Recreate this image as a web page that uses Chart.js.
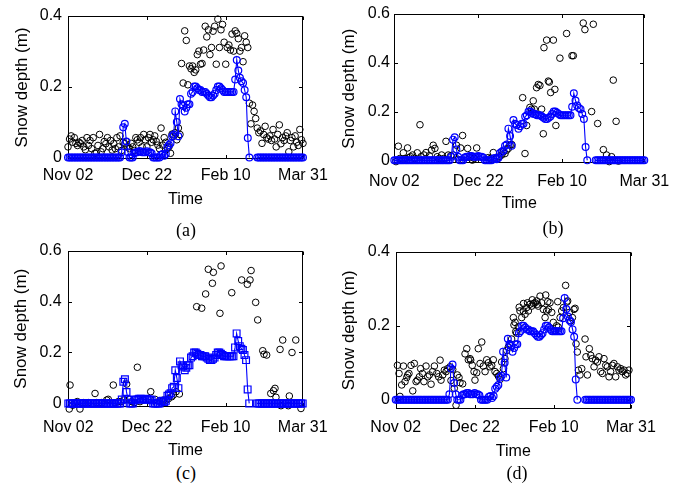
<!DOCTYPE html>
<html><head><meta charset="utf-8">
<script src="https://cdn.jsdelivr.net/npm/chart.js@4.4.1/dist/chart.umd.min.js"></script>
<style>
html,body{margin:0;padding:0;background:#fff;}
#wrap{position:relative;width:684px;height:485px;overflow:hidden;background:#fff;}
canvas{position:absolute;}
.cap{position:absolute;font-family:"Liberation Serif","Times New Roman",serif;font-size:18px;color:#000;transform:translate(-50%,-50%);white-space:nowrap;line-height:1;}
</style></head><body>
<div id="wrap">
<canvas id="pa"></canvas>
<canvas id="pb"></canvas>
<canvas id="pc"></canvas>
<canvas id="pd"></canvas>
<div class="cap" style="left:186px;top:230px">(a)</div>
<div class="cap" style="left:553px;top:228px">(b)</div>
<div class="cap" style="left:186px;top:473px">(c)</div>
<div class="cap" style="left:517px;top:473px">(d)</div>
</div>
<script>
// ---- tick labels ----
const xTickDays = [0, 50, 100, 149];
const xTickLabels = ['Nov 02', 'Dec 22', 'Feb 10', 'Mar 31'];
const yTicksA = [0, 0.2, 0.4];
const yTicksB = [0, 0.2, 0.4, 0.6];
const yTicksC = [0, 0.2, 0.4, 0.6];
const yTicksD = [0, 0.2, 0.4];

// ---- modelled snow depth (blue), one value per day from Nov 02 ----
const modelDepth = [
0,0,0,0,0,0,0,0,0,0,
0,0,0,0,0,0,0,0,0,0,
0,0,0,0,0,0,0,0,0,0,
0,0,0,0,0.015,0.085,0.095,0.045,0.015,0,
0,0,0.012,0.015,0.015,0.018,0.018,0.015,0.015,0.015,
0.018,0.015,0.015,0.012,0,0,0,0,0,0.008,
0.01,0.005,0.01,0.03,0.035,0.04,0.06,0.065,0.13,0.10,
0.06,0.165,0.15,0.145,0.13,0.14,0.15,0.15,0.18,0.185,
0.20,0.20,0.195,0.19,0.19,0.185,0.185,0.185,0.18,0.175,
0.17,0.17,0.175,0.18,0.19,0.20,0.20,0.195,0.19,0.185,
0.185,0.185,0.185,0.185,0.185,0.185,0.22,0.275,0.245,0.225,
0.215,0.21,0.19,0.17,0.055,0,null,null,null,null,
0,0,0,0,0,0,0,0,0,0,
0,0,0,0,0,0,0,0,0,0,
0,0,0,0,0,0,0,0,0,0
];

// ---- observed snow depth (black circles) ----
// (a): one value per day from Nov 02
const obsDepthA = [
0.03,0.052,0.061,0.043,0.056,0.04,0.034,0.043,0.039,0.048,
0.03,0.022,0.056,0.034,0.048,0.025,0.056,0.012,0.013,0.034,
0.065,0.016,0.025,0.045,0.039,0.056,0.03,0.048,0.021,0.039,
0.025,0.056,0.03,0.061,0.02,0.043,0.039,0.045,0.03,0.025,
0.04,0.03,0.02,0.056,0.05,0.043,0.056,0.03,0.065,0.05,
0.03,0.056,0.065,0.043,0.05,0.061,0.045,0.035,0.025,0.083,
0.035,0.056,0.043,0.025,0.03,0.012,0.066,0.06,0.07,0.05,
0.083,0.065,0.265,0.21,0.357,0.33,0.205,0.258,0.25,0.258,
0.24,0.247,0.29,0.30,0.263,0.265,0.303,0.37,0.34,0.36,
0.29,0.31,0.356,0.37,0.263,0.39,0.31,0.36,0.375,0.325,
0.263,0.31,0.317,0.303,0.348,0.30,0.357,0.35,0.335,0.30,
0.31,0.27,0.343,0.325,0.31,0.153,0.095,0.148,0.13,0.11,
0.083,0.07,0.075,0.04,0.065,0.088,0.056,0.052,0.061,0.048,
0.079,0.052,0.03,0.065,0.092,0.039,0.056,0.048,0.061,0.07,
0.016,0.048,0.056,0.03,0.061,0.043,0.034,0.079,0.05,0.04
];

// (b)
const obsDaysB = [1.0,2.4,3.4,5.4,6.4,7.9,8.7,9.7,10.9,12.1,13.7,15.3,15.9,17.7,18.9,20.9,22.2,23.2,24.2,25.6,26.8,28.2,29.6,30.8,32.2,33.6,35.2,37.1,38.1,39.5,40.7,42.1,43.7,45.1,46.5,47.7,49.1,56.0,57.4,59.0,61.0,62.6,64.0,65.0,66.0,67.0,68.0,69.0,70.0,76.5,77.9,78.9,80.8,81.8,82.8,83.4,84.8,85.8,86.8,87.8,88.8,89.2,90.8,91.8,92.4,93.2,94.8,95.7,96.3,98.7,102.7,105.9,106.7,112.6,113.6,117.6,118.6,121.2,124.6,126.5,128.1,129.5,130.5,132.2,133.6];
const obsDepthB = [-0.005,0.058,0.008,0.031,0.008,0.051,0.011,0.015,0.022,0.008,0.031,0.146,0.015,0.022,0.032,0.019,0.042,0.062,0.049,0.015,0.008,0.022,0.008,0.078,0.022,0.019,0.022,0.062,0.004,0.051,0.102,0.011,0.049,0.011,0.001,0.008,0.051,0.011,0.008,0.032,0.008,0.015,0.022,0.035,0.028,0.042,0.049,0.062,0.065,0.257,0.028,0.143,0.217,0.21,0.244,0.21,0.298,0.311,0.307,0.21,0.109,0.462,0.493,0.325,0.321,0.278,0.493,0.291,0.143,0.419,0.52,0.429,0.429,0.563,0.536,0.2,0.558,0.151,0.044,0.022,-0.005,0.015,0.329,0.16,-0.003];

// (c)
const obsDaysC = [1.1,0.6,2.8,4.2,5.7,7.4,9.5,11.2,12.7,17.0,18.0,21.2,24.4,25.4,28.6,29.7,31.8,33.3,35.4,37.1,38.8,40.3,42.0,43.9,45.6,47.7,52.4,55.1,56.2,57.9,60.4,62.1,63.6,65.7,66.8,68.5,70.6,81.6,84.8,87.3,89.0,91.6,92.2,96.4,97.1,103.9,110.2,113.8,115.5,116.2,119.1,120.4,123.6,124.4,126.1,128.7,130.4,131.4,132.0,134.6,136.3,135.2,139.9,140.5,142.2,144.6,147.9];
const obsDepthC = [0.072,-0.022,-0.007,0.003,0.007,-0.022,0.003,0.0,0.003,0.039,0.003,0.003,0.013,0.016,0.072,0.003,0.007,0.007,0.013,0.076,0.016,0.007,0.003,0.142,0.007,0.013,0.046,0.016,0.0,0.01,0.013,0.013,0.018,0.026,0.033,0.046,0.037,0.38,0.374,0.43,0.527,0.472,0.515,0.354,0.54,0.435,0.485,0.468,0.485,0.522,0.397,0.328,0.207,0.193,0.19,0.039,0.05,0.059,0.024,0.212,0.249,-0.009,-0.009,0.029,0.2,0.249,-0.02];

// (d)
const obsDaysD = [1.1,2.1,2.7,3.8,4.9,5.9,7.0,7.6,8.4,9.7,10.8,11.8,12.9,13.7,15.0,15.8,16.9,17.9,19.2,20.3,21.3,22.4,23.4,24.5,26.0,27.2,28.1,28.7,29.8,30.8,31.9,32.9,34.4,35.0,36.1,37.1,38.2,39.0,40.1,40.7,42.4,43.9,45.0,46.0,47.1,47.5,48.5,49.6,50.2,51.3,52.3,53.4,54.5,55.5,56.6,57.6,58.7,59.7,60.8,61.8,62.9,64.0,65.0,66.1,67.1,68.2,69.2,70.3,71.3,72.4,73.4,74.5,75.6,76.6,77.7,78.7,79.8,80.8,81.9,82.9,84.0,85.1,86.1,87.2,88.2,89.3,90.3,91.4,92.4,93.5,94.6,95.6,96.7,97.7,98.8,99.8,100.9,101.9,103.0,104.1,105.1,106.2,107.6,108.9,110.0,110.8,111.9,112.9,114.2,115.0,115.7,116.7,117.8,119.9,120.5,121.4,122.6,123.5,124.5,125.6,126.6,127.7,128.7,129.8,130.9,131.9,133.0,134.0,135.1,136.1,137.2,138.2,139.3,140.4,141.4,142.5,143.5,144.6,145.6,146.7,147.7,
78.2,80.9,83.5,86.5,89.8,95.0,96.3,102.6,108.4,113.6,74.9,76.0];
const obsDepthD = [0.093,0.071,0.009,0.04,0.091,0.049,0.06,0.067,0.071,0.093,0.024,0.098,0.049,0.053,0.062,0.084,0.071,0.049,0.091,0.062,0.067,0.042,0.076,0.091,0.071,0.062,0.107,0.053,0.067,0.08,0.076,0.084,0.089,0.052,0.082,0.031,-0.015,0.067,0.06,0.046,0.043,0.124,0.138,0.108,0.111,0.107,0.093,0.076,0.053,0.073,0.138,0.098,0.156,0.091,0.076,0.108,0.1,0.089,0.093,0.108,0.076,0.071,0.064,0.055,0.102,0.084,0.111,0.133,0.142,0.151,0.164,0.222,0.209,0.18,0.197,0.24,0.222,0.24,0.231,0.249,0.24,0.258,0.253,0.26,0.262,0.267,0.253,0.28,0.262,0.244,0.222,0.24,0.244,0.262,0.236,0.209,0.187,0.2,0.196,0.222,0.24,0.249,0.309,0.267,0.236,0.213,0.222,0.244,0.151,0.129,0.08,0.067,0.084,0.164,0.116,0.067,0.138,0.12,0.111,0.089,0.107,0.102,0.116,0.076,0.071,0.111,0.093,0.089,0.062,0.076,0.093,0.098,0.062,0.089,0.08,0.084,0.076,0.08,0.067,0.071,0.08,
0.25,0.26,0.262,0.27,0.258,0.283,0.265,0.265,0.264,0.247,0.202,0.184];

// ---- rendering ----
const BLUE = '#0000ff';
const FONT = '"Liberation Sans", Arial, Helvetica, sans-serif';

const framePlugin = {
  id: 'frame',
  beforeDatasetsDraw(chart) {
    const {ctx, chartArea: a, scales} = chart;
    const L = Math.round(a.left) + 0.5, R = Math.round(a.right) - 0.5;
    const T = Math.round(a.top) + 0.5, B = Math.round(a.bottom) - 0.5;
    const tl = 3.5;
    ctx.save();
    ctx.strokeStyle = '#000';
    ctx.lineWidth = 1;
    ctx.strokeRect(L, T, R - L, B - T);
    ctx.beginPath();
    scales.x.ticks.forEach(t => {
      const px = Math.round(scales.x.getPixelForValue(t.value)) + 0.5;
      ctx.moveTo(px, B); ctx.lineTo(px, B - tl);
      ctx.moveTo(px, T); ctx.lineTo(px, T + tl);
    });
    scales.y.ticks.forEach(t => {
      const py = Math.round(scales.y.getPixelForValue(t.value)) + 0.5;
      ctx.moveTo(L, py); ctx.lineTo(L + tl, py);
      ctx.moveTo(R, py); ctx.lineTo(R - tl, py);
    });
    ctx.stroke();
    ctx.restore();
  }
};

function makePanel(id, p) {
  const el = document.getElementById(id);
  el.width = p.cw; el.height = p.ch;
  el.style.left = p.cx + 'px'; el.style.top = p.cy + 'px';
  el.style.width = p.cw + 'px'; el.style.height = p.ch + 'px';
  const modelPts = modelDepth.map((v, i) => ({x: i, y: v}));
  const obsPts = [];
  const n = Math.min(p.obsX.length, p.obsY.length);
  for (let i = 0; i < n; i++) obsPts.push({x: p.obsX[i], y: p.obsY[i]});
  const isRect = p.marker === 'rect';
  new Chart(el, {
    type: 'scatter',
    data: {datasets: [
      {label: 'model', data: modelPts, showLine: true, spanGaps: false, borderColor: BLUE, borderWidth: 1.1,
       pointStyle: p.marker, pointRadius: isRect ? 4.8 : 3.4, pointBorderColor: BLUE, pointBorderWidth: 1.2,
       pointBackgroundColor: 'rgba(0,0,0,0)', backgroundColor: 'rgba(0,0,0,0)', fill: false, tension: 0, order: 0, clip: 8},
      {label: 'obs', data: obsPts, showLine: false, pointStyle: 'circle', pointRadius: 3.3, pointBorderColor: '#000',
       pointBorderWidth: 1, pointBackgroundColor: 'rgba(0,0,0,0)', order: 1, clip: 8}
    ]},
    options: {
      responsive: false, animation: false, devicePixelRatio: 1,
      layout: {padding: {left: 0, top: p.T - p.cy, right: p.cx + p.cw - p.R, bottom: p.cy + p.ch - p.B - p.xh}},
      plugins: {legend: {display: false}, tooltip: {enabled: false}, title: {display: false}},
      scales: {
        x: {
          type: 'linear', position: 'bottom', min: 0, max: 149,
          grid: {display: false, drawTicks: false}, border: {display: false},
          afterBuildTicks: s => { s.ticks = xTickDays.map(v => ({value: v})); },
          afterFit: s => { s.height = p.xh; },
          ticks: {autoSkip: false, maxRotation: 0, minRotation: 0, padding: p.xtp, color: '#000',
                  font: {family: FONT, size: 16}, callback: (v, i) => xTickLabels[i]},
          title: {display: true, text: 'Time', color: '#000', font: {family: FONT, size: 16}, padding: {top: 0, bottom: 0}}
        },
        y: {
          type: 'linear', position: 'left', min: p.ymin, max: p.ymax,
          grid: {display: false, drawTicks: false}, border: {display: false},
          afterBuildTicks: s => { s.ticks = p.yTicks.map(v => ({value: v})); },
          afterFit: s => { s.width = p.L - p.cx; },
          ticks: {autoSkip: false, padding: p.ytp, color: '#000', font: {family: FONT, size: 16},
                  callback: v => (Math.abs(v) < 1e-9 ? '0' : v.toFixed(1))},
          title: {display: true, text: 'Snow depth (m)', color: '#000', font: {family: FONT, size: 17}, padding: {top: p.ytt, bottom: 0}}
        }
      }
    },
    plugins: [framePlugin]
  });
}

makePanel('pa', {cx: 0, cy: 0, cw: 342, ch: 215, L: 68, T: 10.7, R: 303, B: 159.3, xh: 50, xtp: 7, ytp: 6, ytt: 11.8,
  ymin: -0.005, ymax: 0.4, yTicks: yTicksA, marker: 'circle', obsX: obsDepthA.map((v, i) => i), obsY: obsDepthA});
makePanel('pb', {cx: 330, cy: 0, cw: 354, ch: 215, L: 394.3, T: 14, R: 644.3, B: 163.3, xh: 50, xtp: 8.5, ytp: 4.3, ytt: 8.8,
  ymin: -0.012, ymax: 0.6, yTicks: yTicksB, marker: 'circle', obsX: obsDaysB, obsY: obsDepthB});
makePanel('pc', {cx: 0, cy: 230, cw: 342, ch: 230, L: 68.3, T: 250.7, R: 302.7, B: 406.7, xh: 53.4, xtp: 11, ytp: 6.6, ytt: 10.8,
  ymin: -0.013, ymax: 0.6, yTicks: yTicksC, marker: 'rect', obsX: obsDaysC, obsY: obsDepthC});
makePanel('pd', {cx: 330, cy: 230, cw: 354, ch: 230, L: 395.7, T: 251.7, R: 631, B: 409, xh: 52.5, xtp: 9, ytp: 5.7, ytt: 8.8,
  ymin: -0.025, ymax: 0.4, yTicks: yTicksD, marker: 'circle', obsX: obsDaysD, obsY: obsDepthD});
</script>
</body></html>
